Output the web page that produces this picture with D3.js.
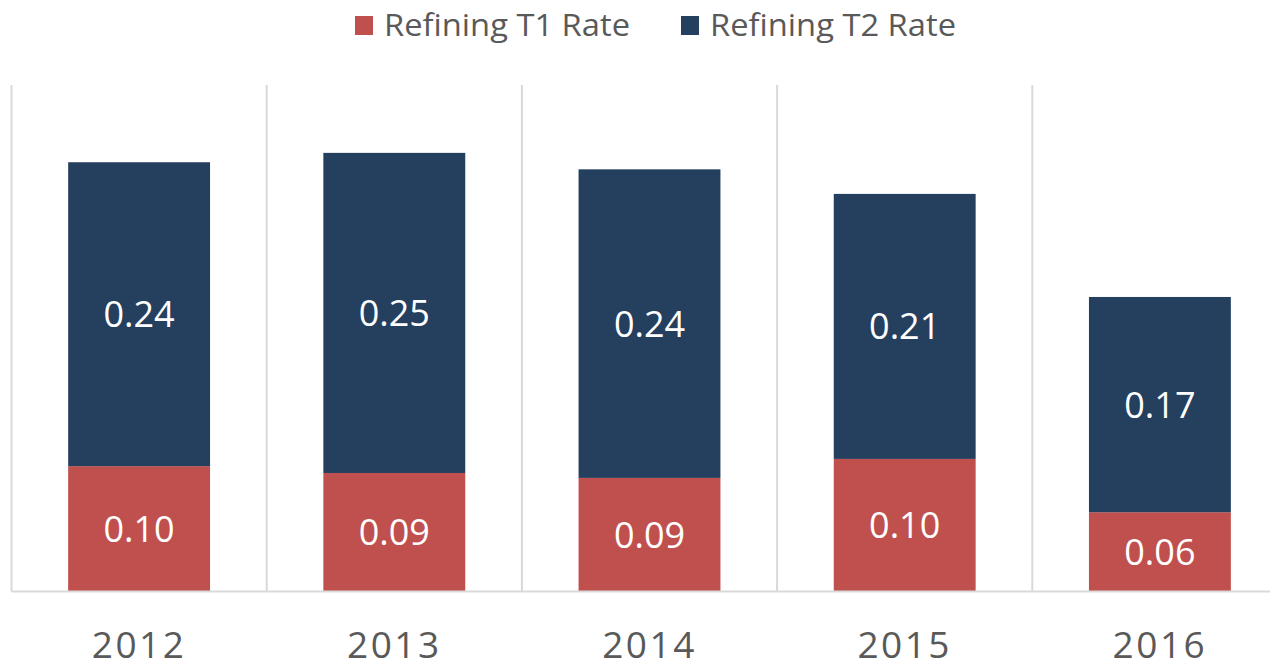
<!DOCTYPE html>
<html>
<head>
<meta charset="utf-8">
<script src="https://cdn.jsdelivr.net/npm/d3@7"></script>
<style>
  html, body { margin: 0; padding: 0; background: #fff; overflow: hidden; }
  text { font-family: "Open Sans", sans-serif; }
</style>
</head>
<body>
<script>
    const width = 1270;
    const height = 664;

    // chart values
    const years = ["2012", "2013", "2014", "2015", "2016"];
    const t1Rate = [0.099, 0.0936, 0.0897, 0.1047, 0.0626];
    const t2Rate = [0.240, 0.2528, 0.2437, 0.2093, 0.170];
    const seriesNames = ["Refining T1 Rate", "Refining T2 Rate"];
    const seriesColors = ["#C0504D", "#253F5F"];

    let rows = years.map((y, i) => ({year: y, t1: t1Rate[i], t2: t2Rate[i]}));

    let svg = d3.select("body").append("svg")
        .attr("width", width)
        .attr("height", height);

    // band scale runs past the right edge, like the cropped original
    let x = d3.scaleBand()
        .domain(years)
        .range([11.5, 1287.5])
        .paddingInner(0.444)
        .paddingOuter(0.222);

    let y = d3.scaleLinear()
        .domain([0, 0.4])
        .range([591.5, 85]);

    // vertical gridlines between categories
    let step = x.step();
    let bounds = d3.range(years.length + 1).map(i => x.range()[0] + i * step);
    svg.selectAll(".grid")
        .data(bounds)
        .enter()
        .append("line")
        .attr("x1", d => d)
        .attr("x2", d => d)
        .attr("y1", y(0.4))
        .attr("y2", y(0))
        .style("stroke", "#D9D9D9")
        .style("stroke-width", 2);

    let stack = d3.stack().keys(["t1", "t2"]);
    let layers = stack(rows);

    let groups = svg.selectAll(".layer")
        .data(layers)
        .enter()
        .append("g")
        .attr("fill", (d, i) => seriesColors[i]);

    groups.selectAll("rect")
        .data(d => d)
        .enter()
        .append("rect")
        .attr("x", d => x(d.data.year))
        .attr("width", x.bandwidth())
        .attr("y", d => y(d[1]))
        .attr("height", d => y(d[0]) - y(d[1]));

    // value labels in the middle of each segment
    groups.selectAll(".lbl")
        .data(d => d)
        .enter()
        .append("text")
        .attr("x", d => x(d.data.year) + x.bandwidth() / 2)
        .attr("y", d => (y(d[0]) + y(d[1])) / 2)
        .attr("dy", "0.36em")
        .attr("text-anchor", "middle")
        .style("font-size", "36px")
        .style("fill", "#fff")
        .text(d => (d[1] - d[0]).toFixed(2));

    // baseline
    svg.append("line")
        .attr("x1", x.range()[0])
        .attr("x2", width)
        .attr("y1", y(0))
        .attr("y2", y(0))
        .style("stroke", "#D9D9D9")
        .style("stroke-width", 2);

    // category labels
    svg.selectAll(".year")
        .data(years)
        .enter()
        .append("text")
        .attr("x", d => x(d) + x.bandwidth() / 2)
        .attr("y", 658)
        .attr("text-anchor", "middle")
        .style("font-size", "37px")
        .style("letter-spacing", "2.5px")
        .style("fill", "#595959")
        .text(d => d);

    // legend
    let legendX = [355, 681];
    let legend = svg.selectAll(".legend")
        .data(seriesNames)
        .enter()
        .append("g")
        .attr("transform", (d, i) => "translate(" + legendX[i] + ",0)");

    legend.append("rect")
        .attr("y", 16)
        .attr("width", 18)
        .attr("height", 19)
        .style("fill", (d, i) => seriesColors[i]);

    legend.append("text")
        .attr("x", 29)
        .attr("y", 36)
        .attr("textLength", 246)
        .attr("lengthAdjust", "spacingAndGlyphs")
        .style("font-size", "31px")
        .style("fill", "#595959")
        .text(d => d);
</script>
</body>
</html>
